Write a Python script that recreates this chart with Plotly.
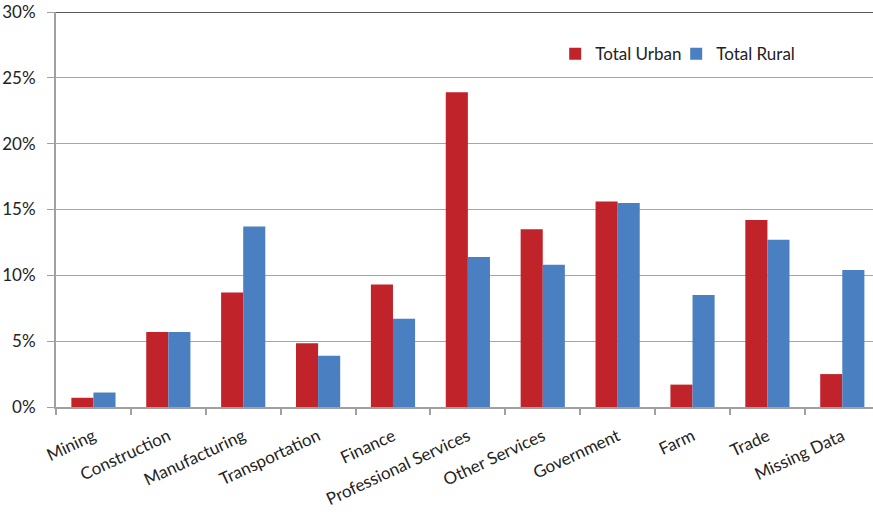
import plotly.graph_objects as go

categories = ["Mining", "Construction", "Manufacturing", "Transportation", "Finance",
              "Professional Services", "Other Services", "Government", "Farm", "Trade",
              "Missing Data"]
urban = [0.7, 5.7, 8.7, 4.85, 9.3, 23.9, 13.5, 15.6, 1.7, 14.2, 2.5]
rural = [1.1, 5.7, 13.7, 3.9, 6.7, 11.4, 10.8, 15.5, 8.5, 12.7, 10.4]
y_ticks = [0, 5, 10, 15, 20, 25, 30]
y_tick_text = [f"{v}%" for v in y_ticks]

RED = "#C0232A"
BLUE = "#4A7FC1"
FONT = "Lato, 'Open Sans', sans-serif"

fig = go.Figure()
fig.add_trace(go.Bar(name="Total Urban", x=categories, y=urban, marker_color=RED,
                     marker_line_width=0))
fig.add_trace(go.Bar(name="Total Rural", x=categories, y=rural, marker_color=BLUE,
                     marker_line_width=0))

# white patch behind the legend, hiding the gridline there
fig.add_shape(type="rect", xref="paper", yref="paper", x0=0.623, x1=0.896, y0=0.815, y1=0.954,
              fillcolor="white", line_width=0, layer="between")
# dark top border at the 30% line
fig.add_shape(type="line", xref="paper", yref="y", x0=0, x1=1, y0=30, y1=30,
              line=dict(color="#222222", width=1.5), layer="above")

fig.update_layout(
    width=873, height=512,
    margin=dict(l=56, r=0, t=12, b=105),
    paper_bgcolor="white", plot_bgcolor="white",
    barmode="group", bargap=0.41, bargroupgap=0,
    font=dict(family=FONT, size=15, color="#222222"),
    showlegend=True,
    legend=dict(orientation="h", x=0.611, y=0.893, xanchor="left", yanchor="middle",
                bgcolor="rgba(0,0,0,0)", font=dict(size=17, color="#222222"),
                itemwidth=30, entrywidth=76, traceorder="normal"),
)
fig.update_xaxes(
    type="category", range=[-0.5, 10.41],
    showline=True, linecolor="#A0A0A0", linewidth=2,
    ticks="outside", tickson="boundaries", ticklen=6, tickcolor="#A0A0A0", tickwidth=2,
    tickangle=-25, tickfont=dict(size=17, color="#222222"),
    ticklabelstandoff=11,
    showgrid=False, zeroline=False,
)
fig.update_yaxes(
    range=[0, 30], tickvals=y_ticks, ticktext=y_tick_text,
    showline=True, linecolor="#A0A0A0", linewidth=2,
    ticks="outside", ticklen=7, tickcolor="#A0A0A0", tickwidth=1,
    showgrid=True, gridcolor="#A6A6A6", gridwidth=1,
    zeroline=False, tickfont=dict(size=17, color="#222222"),
    ticklabelstandoff=8,
)

fig.write_html("out.html")
